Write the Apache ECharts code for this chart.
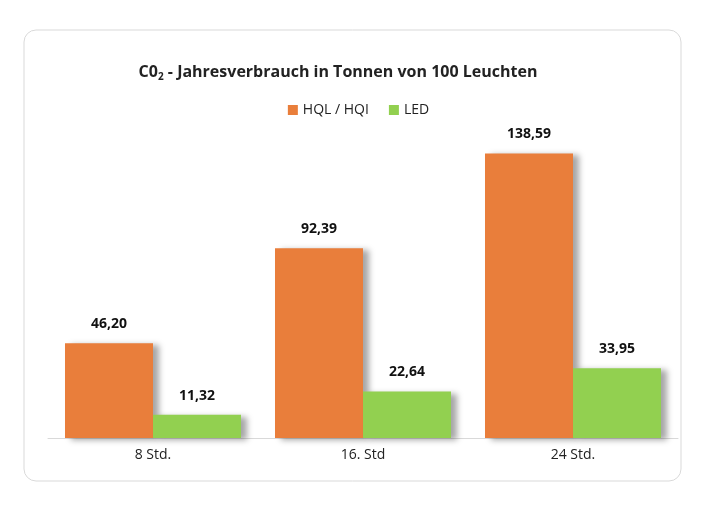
<!DOCTYPE html>
<html><head><meta charset="utf-8">
<script src="https://cdn.jsdelivr.net/npm/echarts@6/dist/echarts.min.js"></script>
<style>html,body{margin:0;background:#fff}#c{width:717px;height:508px}</style>
</head><body><div id="c"></div>
<script>
const categories = ['8 Std.', '16. Std', '24 Std.'];
const hql = [46.20, 92.39, 138.59];
const led = [11.32, 22.64, 33.95];
const fmt = v => v.toFixed(2).replace('.', ',');
const chart = echarts.init(document.getElementById('c'));
const font = 'Open Sans';
const shadow = {shadowColor:'rgba(0,0,0,0.35)', shadowBlur:6, shadowOffsetX:6, shadowOffsetY:2};
chart.setOption({
  textStyle:{fontFamily:font},
  graphic:[{type:'rect', shape:{x:24,y:30,width:657,height:451,r:12}, style:{fill:'#fff',stroke:'#d9d9d9',lineWidth:1}, z:-10}],
  title:{text:'{a|C0}{s|2}{a| - Jahresverbrauch in Tonnen von 100 Leuchten}', left:333, top:57, textAlign:'center',
    textStyle:{rich:{a:{fontSize:16,color:'#222',fontFamily:font}, s:{fontSize:10,color:'#222',fontFamily:font,padding:[10,0,0,0]}}}},
  legend:{top:98, left:'center', itemWidth:10, itemHeight:10, itemGap:20, icon:'rect',
    textStyle:{fontSize:14,color:'#222',fontFamily:font}},
  grid:{left:48, right:39, top:130, bottom:70},
  xAxis:{type:'category', data:categories, axisTick:{show:false},
    axisLine:{lineStyle:{color:'#d9d9d9'}}, axisLabel:{fontSize:14,color:'#222',margin:10}},
  yAxis:{type:'value', min:0, max:150, show:false, splitLine:{show:false}},
  series:[
    {name:'HQL / HQI', type:'bar', data:hql, barWidth:88, barGap:'0%',
     itemStyle:Object.assign({color:'#E97E3B'}, shadow),
     label:{show:true, position:'top', distance:12, formatter:p=>fmt(p.value), fontSize:14, fontWeight:'bold', color:'#111'}},
    {name:'LED', type:'bar', data:led, barWidth:88,
     itemStyle:Object.assign({color:'#92D050'}, shadow),
     label:{show:true, position:'top', distance:12, formatter:p=>fmt(p.value), fontSize:14, fontWeight:'bold', color:'#111'}}
  ]
});
</script></body></html>
